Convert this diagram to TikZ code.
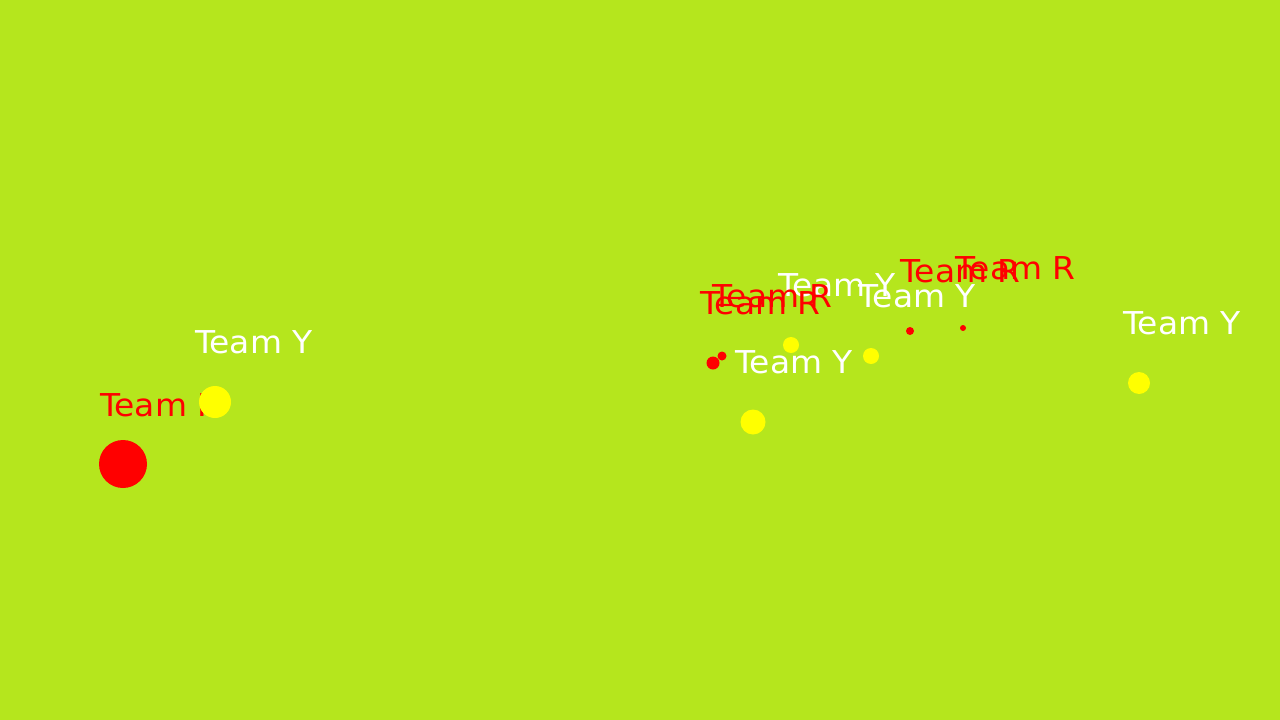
\documentclass[tikz,border=0pt]{standalone}
\usepackage{fontspec}
\setmainfont[FakeStretch=1.045]{DejaVu Sans}
\definecolor{pitch}{RGB}{181,230,29}
\definecolor{teamred}{RGB}{255,0,0}
\definecolor{teamyellow}{RGB}{255,255,0}
\begin{document}
\begin{tikzpicture}[x=1pt,y=-1pt]
\tikzset{
  reddot/.style={circle,fill=teamred,draw=none,inner sep=0pt},
  yellowdot/.style={circle,fill=teamyellow,draw=none,inner sep=0pt},
  teamlabel/.style={anchor=base west,inner sep=0pt,font=\fontsize{31.5}{36}\selectfont},
  redlabel/.style={teamlabel,text=teamred},
  yellowlabel/.style={teamlabel,text=white}
}
\fill[pitch] (0,0) rectangle (1280,720);
\useasboundingbox (0,0) rectangle (1280,720);
% left pair
\node[reddot,minimum size=48pt] (p_r1) at (123,464) {};
\node[redlabel] (l_r1) at (100,416) {Team R};
\node[yellowdot,minimum size=32pt] (p_y2) at (215,402) {};
\node[yellowlabel] (l_y2) at (195,353) {Team Y};
% right group, yellow
\node[yellowdot,minimum size=16pt] (p_y5) at (791,345) {};
\node[yellowlabel] (l_y5) at (778,296) {Team Y};
\node[yellowdot,minimum size=16pt] (p_y6) at (871,356) {};
\node[yellowlabel] (l_y6) at (858,307) {Team Y};
\node[yellowdot,minimum size=25pt] (p_y9) at (753,422) {};
\node[yellowlabel] (l_y9) at (735,373) {Team Y};
\node[yellowdot,minimum size=22pt] (p_y10) at (1139,383) {};
\node[yellowlabel] (l_y10) at (1123,334) {Team Y};
% right group, red
\node[reddot,minimum size=13pt] (p_r3) at (713,363) {};
\node[redlabel] (l_r3) at (700,314) {Team R};
\node[reddot,minimum size=9pt] (p_r4) at (722,356) {};
\node[redlabel] (l_r4) at (712,307) {Team R};
\node[reddot,minimum size=8pt] (p_r7) at (910,331) {};
\node[redlabel] (l_r7) at (900,282) {Team R};
\node[reddot,minimum size=6pt] (p_r8) at (963,328) {};
\node[redlabel] (l_r8) at (955,279) {Team R};
\end{tikzpicture}
\end{document}
